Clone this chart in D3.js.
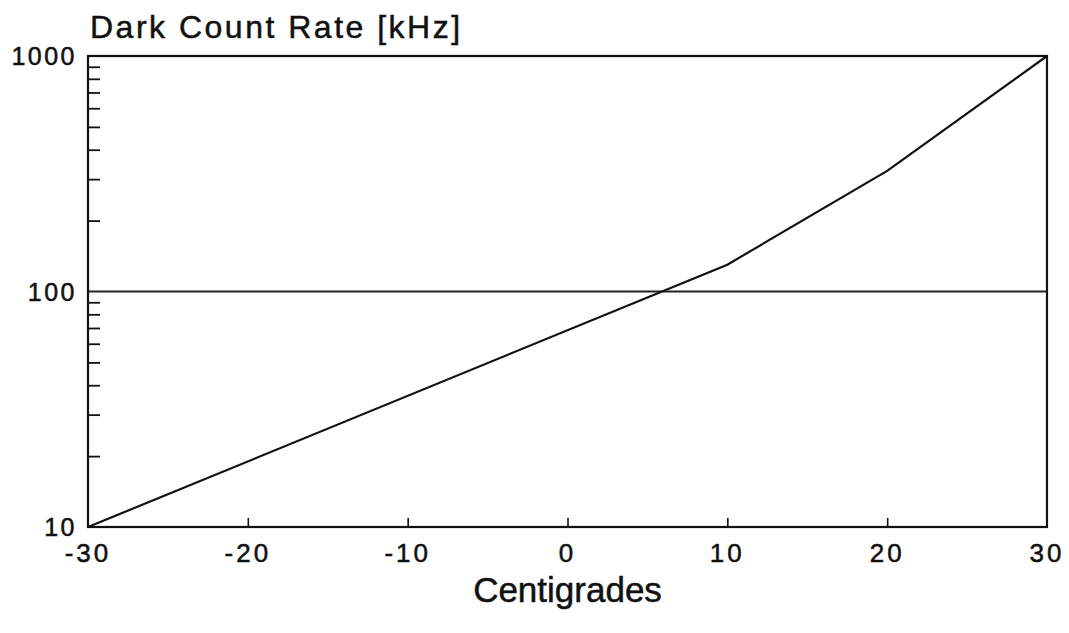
<!DOCTYPE html>
<html>
<head>
<meta charset="utf-8">
<script src="https://cdn.jsdelivr.net/npm/d3@7"></script>
<style>
  body { margin: 0; background: #fff; }
  text { font-family: "Liberation Sans", Arial, sans-serif; fill: #111; stroke: #111; stroke-width: 0.5px; }
</style>
</head>
<body>
<svg id="chart"></svg>
<script>
// temperature in centigrades and dark count rate in kHz
const temps = [-30, 10, 20, 30];
const rates = [10, 130, 325, 1000];
const xTicks = [-30, -20, -10, 0, 10, 20, 30];
const yTicks = [10, 100, 1000];
const refRate = 100;

var width = 1069;
var height = 633;
var margin = { top: 56, bottom: 106, left: 88, right: 22 };

var svg = d3.select('#chart')
  .attr('width', width)
  .attr('height', height);

var x = d3.scaleLinear()
  .domain([-30, 30])
  .range([margin.left, width - margin.right]);

var y = d3.scaleLog()
  .domain([10, 1000])
  .range([height - margin.bottom, margin.top]);

// minor ticks 2..9 of each decade, pointing inward
var minor = [];
[10, 100].forEach(d => { for (var k = 2; k <= 9; k++) minor.push(d * k); });

svg.append('g')
  .attr('transform', 'translate(' + margin.left + ',0)')
  .call(d3.axisRight(y).tickValues(minor).tickSize(12).tickFormat(''))
  .call(g => g.select('.domain').remove())
  .call(g => g.selectAll('line').attr('stroke', '#111').attr('stroke-width', 1.8));

// x ticks, small and inward
svg.append('g')
  .attr('transform', 'translate(0,' + (height - margin.bottom) + ')')
  .call(d3.axisTop(x).tickValues(xTicks.slice(1, -1)).tickSize(9).tickFormat(''))
  .call(g => g.select('.domain').remove())
  .call(g => g.selectAll('line').attr('stroke', '#111').attr('stroke-width', 1.6));

// frame
svg.append('rect')
  .attr('x', margin.left)
  .attr('y', margin.top)
  .attr('width', width - margin.left - margin.right)
  .attr('height', height - margin.top - margin.bottom)
  .attr('fill', 'none')
  .attr('stroke', '#111')
  .attr('stroke-width', 2.2);

// reference line at 100 kHz
svg.append('line')
  .attr('x1', x(-30)).attr('x2', x(30))
  .attr('y1', y(refRate)).attr('y2', y(refRate))
  .attr('stroke', '#222')
  .attr('stroke-width', 2);

// data curve
var line = d3.line()
  .x((d, i) => x(temps[i]))
  .y(d => y(d));

svg.append('path')
  .datum(rates)
  .attr('d', line)
  .attr('fill', 'none')
  .attr('stroke', '#111')
  .attr('stroke-width', 2.2);

// tick labels
svg.selectAll('text.ylab')
  .data(yTicks)
  .join('text')
    .attr('class', 'ylab')
    .attr('x', margin.left - 11)
    .attr('y', d => y(d) + 9)
    .attr('text-anchor', 'end')
    .style('font-size', '25px')
    .style('letter-spacing', '2.5px')
    .text(d => d);

svg.selectAll('text.xlab')
  .data(xTicks)
  .join('text')
    .attr('class', 'xlab')
    .attr('x', d => x(d))
    .attr('y', height - margin.bottom + 35)
    .attr('text-anchor', 'middle')
    .style('font-size', '26px')
    .style('letter-spacing', '3px')
    .text(d => d);

// axis titles
svg.append('text')
  .attr('x', margin.left + 2)
  .attr('y', 38)
  .style('font-size', '32px')
  .style('letter-spacing', '2.5px')
  .text('Dark Count Rate [kHz]');

svg.append('text')
  .attr('x', x(0))
  .attr('y', 602)
  .attr('text-anchor', 'middle')
  .style('font-size', '35px')
  .text('Centigrades');
</script>
</body>
</html>
